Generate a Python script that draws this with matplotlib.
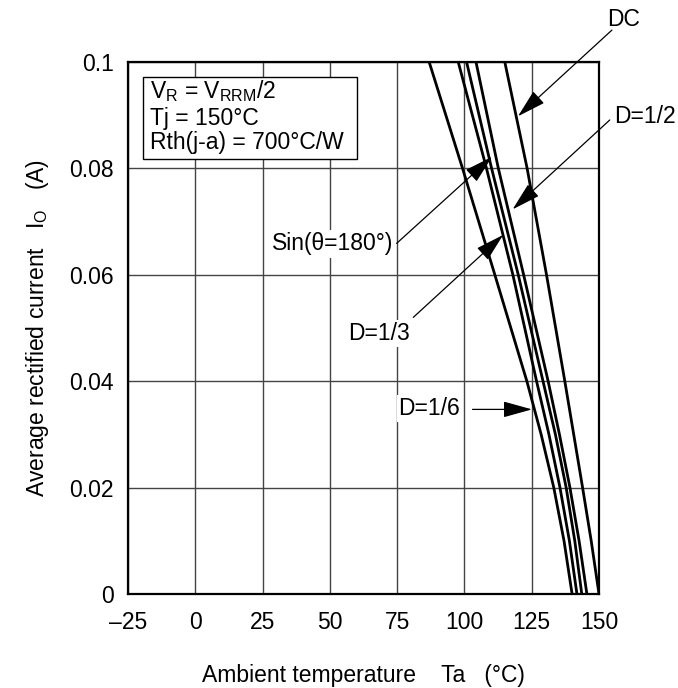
import matplotlib
matplotlib.use("Agg")
import matplotlib.pyplot as plt
from matplotlib.patches import Rectangle

plt.rcParams['font.family'] = ['Liberation Sans', 'DejaVu Sans']
plt.rcParams['mathtext.fontset'] = 'custom'
plt.rcParams['mathtext.rm'] = 'Liberation Sans'
plt.rcParams['mathtext.it'] = 'Liberation Sans'

# current levels (A) and the ambient temperature of each curve at that level
io = [0, 0.01, 0.02, 0.03, 0.04, 0.06, 0.08, 0.1]
ta_d16 = [140.0, 137.0, 133.2, 128.5, 123.2, 111.3, 99.3, 86.9]
ta_d13 = [141.8, 139.0, 135.5, 131.4, 126.8, 118.0, 108.2, 97.7]
ta_sin = [143.6, 141.0, 137.8, 133.8, 129.2, 120.0, 110.1, 100.8]
ta_d12 = [145.5, 142.6, 139.2, 135.3, 131.1, 122.0, 112.6, 104.3]
ta_dc = [150.0, 147.1, 143.9, 140.6, 137.3, 130.5, 123.3, 115.0]

xticks = [-25, 0, 25, 50, 75, 100, 125, 150]
xticklabels = ['\u201325', '0', '25', '50', '75', '100', '125', '150']
yticks = [0, 0.02, 0.04, 0.06, 0.08, 0.1]
yticklabels = ['0', '0.02', '0.04', '0.06', '0.08', '0.1']

fs = 16.5
fig = plt.figure(figsize=(6.78, 6.88), dpi=100)
ax = fig.add_axes([128 / 678, 1 - 594 / 688, 471 / 678, 532 / 688])

for ta in (ta_d16, ta_d13, ta_sin, ta_d12, ta_dc):
    ax.plot(ta, io, color='black', lw=2.0, zorder=3, solid_joinstyle='round')

ax.set_xlim(-25, 150)
ax.set_ylim(0, 0.1)
ax.set_xticks(xticks)
ax.set_xticklabels(xticklabels, fontsize=fs)
ax.set_yticks(yticks)
ax.set_yticklabels(yticklabels, fontsize=fs)
ax.tick_params(length=0, pad=10)
ax.tick_params(axis='x', pad=12)
ax.grid(True, color='#444444', lw=1.0, zorder=1)
for s in ax.spines.values():
    s.set_linewidth(1.6)
    s.set_zorder(5)

# condition box
ax.add_patch(Rectangle((-19.3, 0.0817), 79.4, 0.0154, facecolor='white',
                       edgecolor='black', lw=1.0, zorder=2))
ax.text(-16.8, 0.0932, r'V$_\mathregular{R}$ = V$_\mathregular{RRM}$/2', fontsize=fs,
        va='baseline', ha='left', zorder=4)
ax.text(-16.8, 0.0881, 'Tj = 150\u00b0C', fontsize=fs, va='baseline', ha='left', zorder=4)
ax.text(-16.8, 0.0836, 'Rth(j-a) = 700\u00b0C/W', fontsize=fs, va='baseline', ha='left', zorder=4)

arrow = dict(arrowstyle='-|>,head_length=0.9,head_width=0.25', color='black',
             lw=0.9, mutation_scale=20, shrinkA=0, shrinkB=0)
white = dict(facecolor='white', edgecolor='none', pad=1.5)

# labels with leader arrows
ax.annotate('', xy=(119.9, 0.0898), xytext=(154.8, 0.106), arrowprops=arrow,
            annotation_clip=False, zorder=4)
ax.text(159.2, 0.1079, 'DC', fontsize=fs, ha='center', va='center', clip_on=False)

ax.annotate('', xy=(117.9, 0.0723), xytext=(154.0, 0.0891), arrowprops=arrow,
            annotation_clip=False, zorder=4)
ax.text(167.1, 0.0898, 'D=1/2', fontsize=fs, ha='center', va='center', clip_on=False)

ax.annotate('', xy=(110.3, 0.0822), xytext=(74.8, 0.0659), arrowprops=arrow, zorder=4)
ax.text(51.0, 0.0658, 'Sin(\u03b8=180\u00b0)', fontsize=fs, ha='center', va='center',
        bbox=white, zorder=4)

ax.annotate('', xy=(114.4, 0.0675), xytext=(81.0, 0.0520), arrowprops=arrow, zorder=4)
ax.text(68.2, 0.0489, 'D=1/3', fontsize=fs, ha='center', va='center', bbox=white, zorder=4)

ax.annotate('', xy=(125.1, 0.0347), xytext=(103.0, 0.0347), arrowprops=arrow, zorder=4)
ax.text(87.0, 0.0348, 'D=1/6', fontsize=fs, ha='center', va='center', bbox=white, zorder=4)

fig.text(363 / 678, 1 - 682 / 688, 'Ambient temperature    Ta   (\u00b0C)', fontsize=fs,
         ha='center', va='baseline')
fig.text(38 / 678, 1 - 328 / 688, r'Average rectified current   I$_\mathregular{O}$   (A)',
         fontsize=fs, ha='center', va='center', rotation=90)

fig.savefig('out.png', dpi=100)
